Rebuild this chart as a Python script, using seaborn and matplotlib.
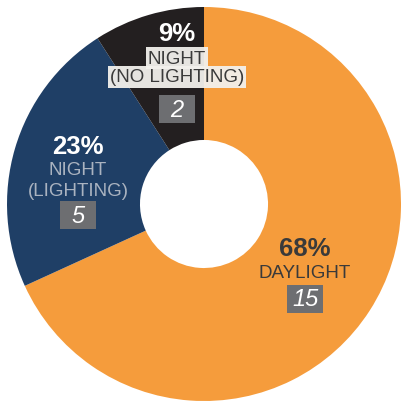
import numpy as np
import matplotlib
matplotlib.use('Agg')
import matplotlib.pyplot as plt
import seaborn as sns
from matplotlib.patches import Rectangle

# crash counts by light condition
categories = ['DAYLIGHT', 'NIGHT\n(LIGHTING)', 'NIGHT\n(NO LIGHTING)']
counts = [15, 5, 2]
colors = ['#F59C3C', '#1F3F66', '#231F20']

sns.set_style('white')
plt.rcParams['font.family'] = ['Liberation Sans', 'DejaVu Sans']

fig = plt.figure(figsize=(4.02, 4.02), dpi=100)
ax = fig.add_axes([0, 0, 1, 1])

wedges, _ = ax.pie(counts, colors=colors, startangle=90, counterclock=False,
                   radius=1.0, wedgeprops=dict(width=0.675, linewidth=0))
ax.set_xlim(-1.0355, 1.005)
ax.set_ylim(-1.0, 1.0406)
ax.set_aspect('equal')
ax.axis('off')

total = sum(counts)
pcts = [round(100 * c / total) for c in counts]

# label layout: x, y of percent, line1, line2, box
layout = [
    dict(x=0.513, yp=-0.223, lines=[-0.350], yb=-0.482,
         pc='#3A3A3A', lc='#3A3A3A', white=False),
    dict(x=-0.640, yp=0.294, lines=[0.173, 0.071], yb=-0.056,
         pc='white', lc='#AAB3C0', white=False),
    dict(x=-0.137, yp=0.868, lines=[0.741, 0.645], yb=0.482,
         pc='white', lc='#3A3A3A', white=True),
]

for cat, n, p, L in zip(categories, counts, pcts, layout):
    ax.text(L['x'], L['yp'], f'{p}%', ha='center', va='center',
            fontsize=18.5, fontweight='bold', color=L['pc'])
    for line, y in zip(cat.split('\n'), L['lines']):
        kw = {}
        if L['white']:
            kw['bbox'] = dict(boxstyle='square,pad=0.12', fc='#F2F0EC',
                              ec='none', alpha=0.95)
        ax.text(L['x'], y, line, ha='center', va='center', fontsize=13.5,
                color=L['lc'], **kw)
    bw, bh = 0.185, 0.14
    ax.add_patch(Rectangle((L['x'] - bw / 2, L['yb'] - bh / 2), bw, bh,
                           fc='#6D6E71', ec='none', zorder=3))
    ax.text(L['x'], L['yb'], str(n), ha='center', va='center', fontsize=17,
            style='italic', color='white', zorder=4)

fig.savefig('out.png', dpi=100)
